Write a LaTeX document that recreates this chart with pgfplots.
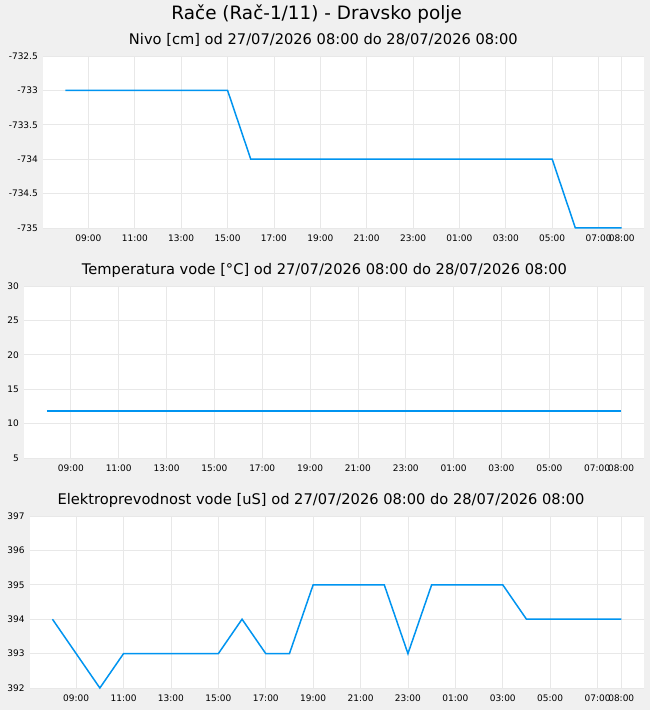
\documentclass[border=0pt]{standalone}
\usepackage{pgfplots}
\pgfplotsset{compat=1.18}
\usepackage{fontspec}
\setmainfont{DejaVu Sans}
\definecolor{bgc}{RGB}{240,240,240}
\definecolor{gridc}{RGB}{232,232,232}
\definecolor{linec}{RGB}{0,148,240}
\pgfplotsset{
  panel/.style={
    scale only axis,
    axis background/.style={fill=white},
    axis line style={draw=none},
    major tick length=0pt,
    grid=major,
    major grid style={gridc, line width=0.8bp},
    xmin=7.04, xmax=32.96,
    xtick={9,11,13,15,17,19,21,23,25,27,29,31,32},
    xticklabels={09:00,11:00,13:00,15:00,17:00,19:00,21:00,23:00,01:00,03:00,05:00,07:00,08:00},
    tick label style={font=\fontsize{9bp}{10bp}\selectfont, text=black},
    xticklabel style={anchor=north, inner sep=0pt, yshift=-7bp},
    yticklabel style={anchor=east, inner sep=0pt, xshift=-5bp},
    clip=false,
  },
  dline/.style={linec, line width=1.5bp, line join=miter},
}
\begin{document}
\begin{tikzpicture}
\path[use as bounding box, fill=bgc] (0,0) rectangle (650bp,710bp);
\node[anchor=base, font=\fontsize{18.4bp}{20bp}\selectfont] at (316.7bp,690bp) {Rače (Rač-1/11) - Dravsko polje};
\node[anchor=base, font=\fontsize{14.65bp}{16bp}\selectfont] at (323.4bp,665bp) {Nivo [cm] od 27/07/2026 08:00 do 28/07/2026 08:00};
\node[anchor=base, font=\fontsize{14.65bp}{16bp}\selectfont] at (324.5bp,435bp) {Temperatura vode [°C] od 27/07/2026 08:00 do 28/07/2026 08:00};
\node[anchor=base, font=\fontsize{14.65bp}{16bp}\selectfont] at (321bp,205bp) {Elektroprevodnost vode [uS] od 27/07/2026 08:00 do 28/07/2026 08:00};

\begin{axis}[panel, at={(43bp,482bp)}, anchor=south west, width=601bp, height=172bp,
  ymin=-735, ymax=-732.5,
  ytick={-735,-734.5,-734,-733.5,-733,-732.5},
  yticklabels={-735,-734.5,-734,-733.5,-733,-732.5}]
\addplot[dline] coordinates {(8,-733) (15,-733) (16,-734) (29,-734) (30,-735) (32,-735)};
\end{axis}

\begin{axis}[panel, at={(24bp,252bp)}, anchor=south west, width=620bp, height=172bp,
  ymin=5, ymax=30,
  ytick={5,10,15,20,25,30},
  yticklabels={5,10,15,20,25,30}]
\addplot[dline] coordinates {(8,11.8) (32,11.8)};
\end{axis}

\begin{axis}[panel, at={(29.7bp,22bp)}, anchor=south west, width=614.3bp, height=172bp,
  ymin=392, ymax=397,
  ytick={392,393,394,395,396,397},
  yticklabels={392,393,394,395,396,397}]
\addplot[dline] coordinates {(8,394) (10,392) (11,393) (15,393) (16,394) (17,393) (18,393) (19,395) (22,395) (23,393) (24,395) (27,395) (28,394) (32,394)};
\end{axis}
\end{tikzpicture}
\end{document}
